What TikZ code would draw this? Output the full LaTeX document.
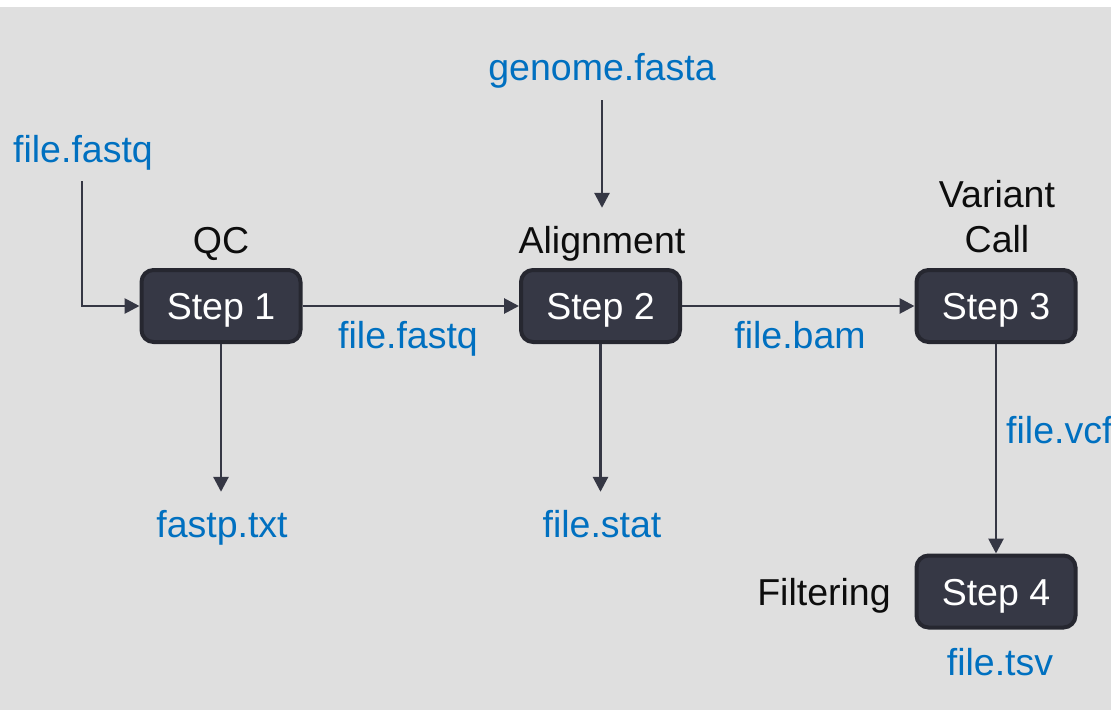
\documentclass[tikz,border=0pt]{standalone}
\usepackage{fontspec}
\setmainfont{Liberation Sans}
\usetikzlibrary{arrows.meta}
\definecolor{bg}{HTML}{DFDFDF}
\definecolor{fileblue}{HTML}{0070C0}
\definecolor{boxfill}{HTML}{363845}
\definecolor{boxborder}{HTML}{262730}
\definecolor{linec}{HTML}{353744}
\definecolor{lbl}{HTML}{0D0D0D}
\tikzset{
  stepbox/.style={draw=boxborder, fill=boxfill, line width=4pt, rounded corners=12pt,
    minimum width=159pt, minimum height=72pt, inner sep=0pt, text=white,
    text height=27pt, text depth=0pt, font=\fontsize{37.5}{45}\selectfont},
  filetxt/.style={text=fileblue, inner sep=0pt, text height=27pt, text depth=8pt,
    font=\fontsize{37.5}{45}\selectfont},
  labeltxt/.style={text=lbl, inner sep=0pt, text height=27pt, text depth=8pt,
    font=\fontsize{37.5}{45}\selectfont},
  arr/.style={draw=linec, line width=2.8pt, -{Triangle[length=15pt,width=15pt]}},
}
\begin{document}
\begin{tikzpicture}[x=1pt,y=-1pt]
\useasboundingbox (0,0) rectangle (1111,710);
\fill[white] (0,0) rectangle (1111,710);
\fill[bg] (0,7) rectangle (1111,710);

% step boxes
\node[stepbox] (s1) at (221,306) {Step 1};
\node[stepbox] (s2) at (600.5,306) {Step 2};
\node[stepbox] (s3) at (996,306) {Step 3};
\node[stepbox] (s4) at (996,591.5) {Step 4};

% labels above boxes
\node[labeltxt, anchor=base] (qc) at (221,253) {QC};
\node[labeltxt, anchor=base] (align) at (602,253) {Alignment};
\node[labeltxt, anchor=base] (variant) at (997,207) {Variant};
\node[labeltxt, anchor=base] (call) at (997,252) {Call};
\node[labeltxt, anchor=base] (filter) at (824,605) {Filtering};

% file texts
\node[filetxt, anchor=base] (fq1) at (83,162) {file.fastq};
\node[filetxt, anchor=base] (genome) at (602,80) {genome.fasta};
\node[filetxt, anchor=base] (fq2) at (408,348) {file.fastq};
\node[filetxt, anchor=base] (bam) at (800,348) {file.bam};
\node[filetxt, anchor=base] (fastp) at (222,537) {fastp.txt};
\node[filetxt, anchor=base] (stat) at (602,537) {file.stat};
\node[filetxt, anchor=base west] (vcf) at (1006,443) {file.vcf};
\node[filetxt, anchor=base] (tsv) at (1000,675) {file.tsv};

% connectors
\draw[arr, shorten <=11pt] (fq1.south -| 82,0) |- (s1.west);
\draw[arr] (s1.east) -- (s2.west);
\draw[arr] (s2.east) -- (s3.west);
\draw[arr, shorten <=12pt, shorten >=18pt] (genome.south) -- (align.north);
\draw[arr, shorten >=18pt] (s1.south) -- (fastp.north -| s1.south);
\draw[arr, shorten >=18pt] (s2.south) -- (stat.north -| s2.south);
\draw[arr] (s3.south) -- (s4.north);
\end{tikzpicture}
\end{document}
